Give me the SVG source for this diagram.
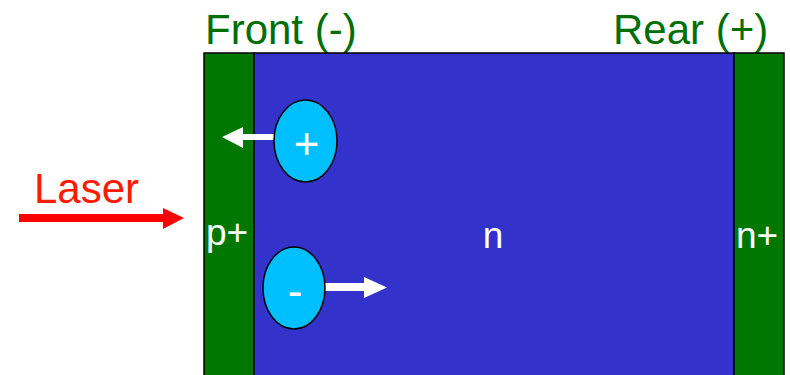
<svg xmlns="http://www.w3.org/2000/svg" width="790" height="375" viewBox="0 0 790 375">
  <style>
    .lbl { font-family: "Liberation Sans", Arial, sans-serif; }
    .title { font-size: 42px; fill: #006e00; }
    .region { stroke: #000; stroke-width: 1.5; }
    .doped { fill: #007800; }
    .bulk { fill: #3333cc; }
    .inner { font-size: 37px; fill: #ffffff; }
    .carrier { fill: #00bfff; stroke: #000; stroke-width: 1.5; }
    .sign { font-size: 44px; fill: #ffffff; text-anchor: middle; }
    .white-arrow { fill: #ffffff; }
  </style>

  <!-- terminal labels -->
  <g id="front-label"><text class="lbl title" x="205" y="44">Front (-)</text></g>
  <g id="rear-label"><text class="lbl title" x="613" y="44">Rear (+)</text></g>

  <!-- diode layers -->
  <g id="p-plus">
    <rect class="region doped" x="204" y="53" width="50" height="330"/>
    <text class="lbl inner" x="206" y="245">p+</text>
  </g>
  <g id="n-bulk">
    <rect class="region bulk" x="254" y="53" width="480" height="330"/>
    <text class="lbl inner" x="493" y="248" text-anchor="middle">n</text>
  </g>
  <g id="n-plus">
    <rect class="region doped" x="734" y="53" width="50" height="330"/>
    <text class="lbl inner" x="736" y="248">n+</text>
  </g>

  <!-- laser label -->
  <g id="laser">
    <text class="lbl" x="34" y="203" font-size="42" fill="#ff1a00">Laser</text>
  </g>

  <!-- drift arrows -->
  <g id="connectors">
    <polygon fill="#ff0000" points="19,214 163,214 163,208 184,218 163,229 163,222 19,222"/>
    <polygon class="white-arrow" points="280,134 243,134 243,127 222,137 243,148 243,140 280,140"/>
    <polygon class="white-arrow" points="320,283 364,283 364,277 387,287.5 364,298 364,291 320,291"/>
  </g>

  <!-- charge carriers -->
  <g id="hole">
    <ellipse class="carrier" cx="305.5" cy="141" rx="31.5" ry="41"/>
    <text class="lbl sign" x="306.5" y="159">+</text>
  </g>
  <g id="electron">
    <ellipse class="carrier" cx="294" cy="288" rx="31" ry="41"/>
    <text class="lbl sign" x="295" y="306">-</text>
  </g>
</svg>
